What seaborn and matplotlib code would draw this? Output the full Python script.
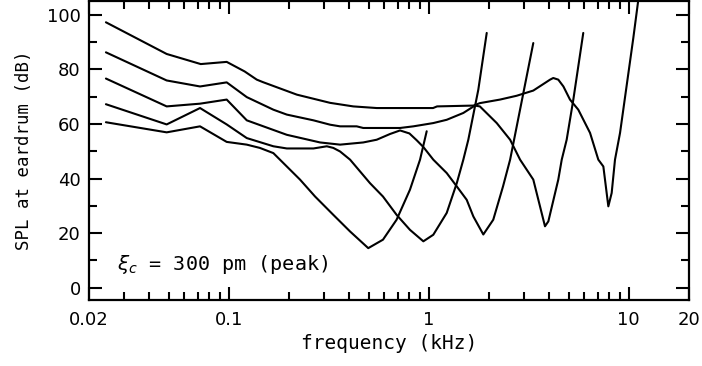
import numpy as np
import pandas as pd
import matplotlib
matplotlib.use("Agg")
import matplotlib.pyplot as plt
import seaborn as sns
from matplotlib.ticker import FixedLocator, NullFormatter

# ---- data (frequency in kHz, SPL in dB) ----
f_A = [0.0243, 0.0489, 0.0724, 0.0976, 0.120, 0.138, 0.148, 0.219, 0.321, 0.419, 0.549,
       1.05, 1.10, 1.67, 1.80, 2.27, 2.75, 3.33, 4.04, 4.19, 4.44, 4.71, 5.08, 5.59,
       6.40, 7.04, 7.46, 7.90, 8.21, 8.53, 9.04, 10.53, 11.16]
spl_A = [97.2, 85.6, 81.9, 82.7, 79.2, 76.2, 75.3, 70.7, 67.7, 66.4, 65.8,
         65.8, 66.4, 66.7, 67.6, 68.9, 70.3, 72.2, 76.2, 76.8, 76.2, 73.7, 68.9, 65.2,
         56.7, 46.9, 44.4, 29.8, 34.7, 46.9, 56.7, 91.4, 105.5]

f_B = [0.0243, 0.0489, 0.0718, 0.0976, 0.123, 0.167, 0.195, 0.265, 0.321, 0.360, 0.436,
       0.470, 0.718, 0.837, 0.939, 1.053, 1.229, 1.488, 1.70, 1.80, 2.186, 2.55, 2.86,
       3.33, 3.81, 3.96, 4.44, 4.62, 4.89, 5.28, 5.92]
spl_B = [86.2, 75.9, 73.7, 75.2, 69.8, 65.2, 63.4, 61.3, 59.7, 59.1, 59.1,
         58.5, 58.5, 59.1, 59.7, 60.3, 61.5, 64.0, 66.7, 66.4, 60.3, 54.2, 46.9,
         39.6, 22.5, 24.3, 39.6, 46.9, 54.2, 68.9, 93.3]

f_C = [0.0243, 0.0489, 0.0718, 0.0976, 0.123, 0.195, 0.286, 0.360, 0.470, 0.549, 0.640,
       0.718, 0.80, 0.87, 0.94, 1.053, 1.229, 1.38, 1.547, 1.67, 1.873, 2.10, 2.35,
       2.55, 2.97, 3.33]
spl_C = [76.6, 66.4, 67.4, 68.9, 61.3, 56.0, 53.2, 52.4, 53.2, 54.2, 56.3,
         57.6, 56.5, 54.0, 51.5, 46.9, 42.0, 37.1, 32.2, 26.1, 19.5, 24.9, 37.1,
         46.9, 71.3, 89.6]

f_D = [0.0243, 0.0489, 0.0718, 0.0976, 0.123, 0.167, 0.195, 0.265, 0.309, 0.333, 0.360,
       0.404, 0.453, 0.508, 0.590, 0.690, 0.805, 0.939, 1.053, 1.229, 1.38, 1.488,
       1.576, 1.768, 1.948]
spl_D = [67.2, 59.8, 65.8, 59.8, 54.8, 51.8, 51.0, 51.0, 51.8, 51.2, 49.9,
         46.9, 42.6, 38.3, 33.4, 26.7, 21.2, 17.0, 19.4, 27.4, 38.3, 46.9,
         54.2, 72.5, 93.3]

f_E = [0.0243, 0.0489, 0.0718, 0.0976, 0.123, 0.143, 0.167, 0.195, 0.227, 0.270, 0.333,
       0.404, 0.498, 0.590, 0.690, 0.805, 0.904, 0.976]
spl_E = [60.6, 56.9, 59.1, 53.4, 52.4, 51.2, 49.3, 44.4, 39.6, 33.4, 26.7,
         20.6, 14.5, 17.6, 24.9, 35.9, 46.9, 57.3]

curves = {"A": (f_A, spl_A), "B": (f_B, spl_B), "C": (f_C, spl_C),
          "D": (f_D, spl_D), "E": (f_E, spl_E)}

x_ticks = [0.02, 0.1, 1, 10, 20]
x_ticklabels = ["0.02", "0.1", "1", "10", "20"]
y_ticks = [0, 20, 40, 60, 80, 100]

df = pd.concat([pd.DataFrame({"freq": f, "spl": s, "curve": k})
                for k, (f, s) in curves.items()], ignore_index=True)

sns.set_theme(style="ticks")
plt.rcParams["font.family"] = ["DejaVu Sans"]
plt.rcParams["text.color"] = "black"
plt.rcParams["axes.labelcolor"] = "black"

fig = plt.figure(figsize=(7.02, 3.66), dpi=100)
ax = fig.add_axes([0.1268, 0.1795, 0.8547, 0.8178])

sns.lineplot(data=df, x="freq", y="spl", hue="curve", units="curve",
             estimator=None, sort=False, palette=["black"] * 5,
             linewidth=1.5, legend=False, ax=ax)

ax.set_xscale("log")
ax.set_xlim(0.02, 20)
ax.set_ylim(-4.6, 105)

ax.xaxis.set_major_locator(FixedLocator(x_ticks))
ax.set_xticklabels(x_ticklabels)
minor = [m * d for d in (0.01, 0.1, 1) for m in range(2, 10)]
minor = [v for v in minor if 0.02 < v < 20 and v not in x_ticks]
ax.xaxis.set_minor_locator(FixedLocator(minor))
ax.xaxis.set_minor_formatter(NullFormatter())

ax.set_yticks(y_ticks)
ax.yaxis.set_minor_locator(FixedLocator([10, 30, 50, 70, 90]))

for sp in ax.spines.values():
    sp.set_linewidth(1.6)
    sp.set_color("black")

ax.tick_params(which="both", direction="in", top=True, right=True,
               width=1.5, colors="black", labelsize=13)
ax.tick_params(which="major", length=9.5)
ax.tick_params(which="minor", length=5.5)
ax.tick_params(axis="x", which="major", pad=8)
ax.tick_params(axis="y", which="major", pad=6)

mono = ["DejaVu Sans Mono", "DejaVu Sans"]
ax.set_xlabel("frequency (kHz)", fontsize=14, family=mono, labelpad=3,
              color="black")
ax.set_ylabel("SPL at eardrum (dB)", fontsize=12.5, family=mono, labelpad=10,
              color="black")

ax.text(0.0275, 8.4, r"$\xi_c$ = 300 pm (peak)", fontsize=14.5, family=mono,
        va="center", ha="left", color="black")

fig.savefig("out.png", dpi=100)
